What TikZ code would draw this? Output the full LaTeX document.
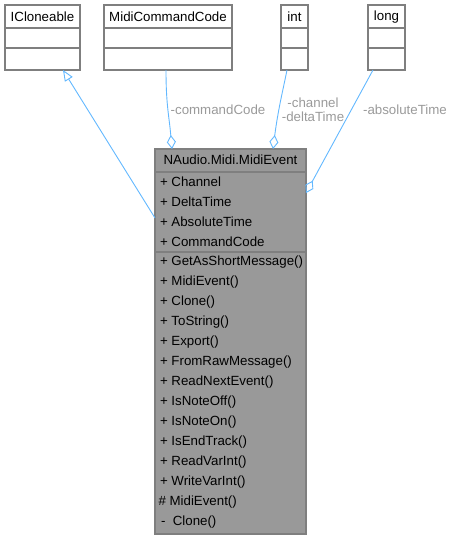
\documentclass[tikz,border=0pt]{standalone}
\usepackage{fontspec}
\setmainfont{Liberation Sans}
\usetikzlibrary{arrows.meta}
\definecolor{edgeblue}{HTML}{63B8FF}
\definecolor{boxline}{HTML}{7F7F7F}
\definecolor{mainfill}{HTML}{999999}
\definecolor{lblgray}{HTML}{9A9A9A}
\begin{document}
\begin{tikzpicture}[x=1pt,y=-1pt,
  every node/.style={inner sep=0pt, outer sep=0pt, font=\fontsize{13.3}{16}\selectfont},
  umlbox/.style={draw=boxline, line width=1.3pt, fill=white, rectangle, anchor=north west},
  mainbox/.style={draw=boxline, line width=1.3pt, fill=mainfill, rectangle, anchor=north west},
  sepline/.style={draw=boxline, line width=1.3pt},
  member/.style={anchor=west, text=black},
  edge/.style={draw=edgeblue, line width=0.9pt},
  lbl/.style={text=lblgray, align=center}
]
\useasboundingbox (0,0) rectangle (453,539);
% top classes
\node[umlbox, minimum width=75pt, minimum height=65pt] (icl) at (5,5) {};
\draw[sepline] (5,28) -- (80,28) (5,48) -- (80,48);
\node at (42.5,17) {ICloneable};
\node[umlbox, minimum width=128pt, minimum height=65pt] (mcc) at (104,5) {};
\draw[sepline] (104,28) -- (232,28) (104,48) -- (232,48);
\node at (168,17) {MidiCommandCode};
\node[umlbox, minimum width=27pt, minimum height=65pt] (int) at (281,5) {};
\draw[sepline] (281,28) -- (308,28) (281,48) -- (308,48);
\node at (294.5,17) {int};
\node[umlbox, minimum width=37pt, minimum height=65pt] (long) at (368,5) {};
\draw[sepline] (368,28) -- (405,28) (368,48) -- (405,48);
\node at (386.5,17) {long};
% main class
\node[mainbox, minimum width=151pt, minimum height=385pt] (main) at (155,149) {};
\draw[sepline] (155,172) -- (306,172) (155,252) -- (306,252);
\node at (230.5,160) {NAudio.Midi.MidiEvent};
\foreach \t [count=\i from 0] in {Channel,DeltaTime,AbsoluteTime,CommandCode}
  \node[member] at (160,{182+20*\i}) {+\ \t};
\foreach \t [count=\i from 0] in {GetAsShortMessage(),MidiEvent(),Clone(),ToString(),Export(),FromRawMessage(),ReadNextEvent(),IsNoteOff(),IsNoteOn(),IsEndTrack(),ReadVarInt(),WriteVarInt()}
  \node[member] at (160,{262+20*\i}) {+\ \t};
\node[member] at (158.5,502) {\#\ MidiEvent()};
\node[member] at (161,522) {-\ \ Clone()};
% connectors
\coordinate (iclb) at (63,70);
\coordinate (mainl) at (155,218);
\draw[edge, -{Triangle[open, length=11pt, width=9pt]}] (mainl) -- (iclb);
\coordinate (mccb) at (166,70);
\coordinate (maint1) at (172,149);
\draw[edge, {Diamond[open, length=14pt, width=9pt]}-] (maint1) .. controls (169,115) and (166,105) .. (mccb);
\coordinate (intb) at (287,70);
\coordinate (maint2) at (273,149);
\draw[edge, {Diamond[open, length=14pt, width=9pt]}-] (maint2) .. controls (278,110) and (283,90) .. (intb);
\coordinate (longb) at (373,70);
\coordinate (mainr) at (306,193);
\draw[edge, {Diamond[open, length=14pt, width=9pt]}-] (mainr) -- (longb);
% labels
\node[lbl] (lcc) at (218,110) {-commandCode};
\node[lbl, font=\fontsize{13.3}{14}\selectfont] (lch) at (313,110) {-channel\\-deltaTime};
\node[lbl] (lat) at (405,110) {-absoluteTime};
\end{tikzpicture}
\end{document}
